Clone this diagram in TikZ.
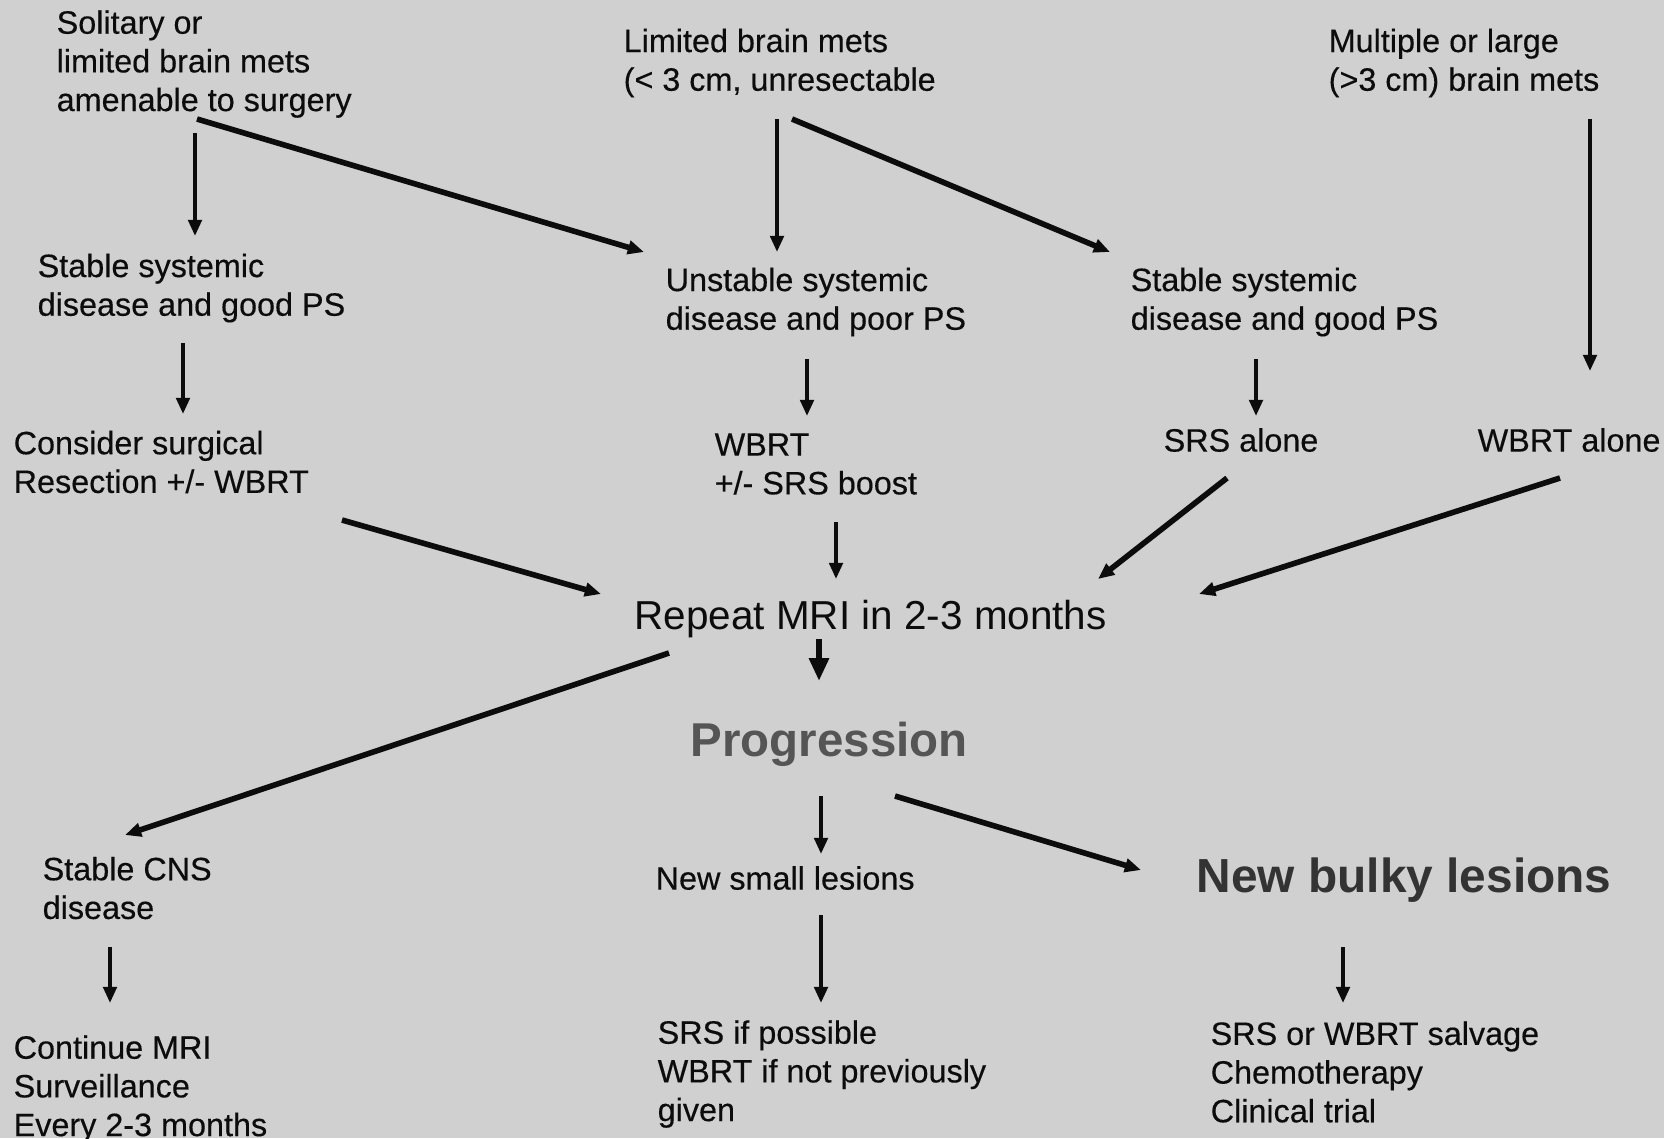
\documentclass[tikz,border=0pt]{standalone}
\usepackage{fontspec}
\setmainfont{Liberation Sans}
\newfontfamily\heavyfont{Liberation Sans}[FakeBold=0.35]
\usetikzlibrary{arrows.meta}
\definecolor{bg}{RGB}{208,208,208}
\definecolor{ink}{RGB}{12,12,12}
\definecolor{progcol}{RGB}{85,85,85}
\definecolor{bulkycol}{RGB}{51,51,51}
\tikzset{
  txt/.style={anchor=west, inner sep=0pt, align=left, text=ink, font=\heavyfont\fontsize{9.2}{11}\selectfont},
  arr/.style={draw=ink, line width=1.1pt, -{Triangle[length=4.6pt,width=3.8pt]}},
  arrthick/.style={arr, line width=1.6pt},
  arrbig/.style={draw=ink, line width=1.7pt, -{Triangle[length=6.5pt,width=5.4pt]}},
}
\begin{document}
\begin{tikzpicture}[x=0.01cm,y=-0.01cm]
    \fill[bg] (0,0) rectangle (1664,1138);
    \useasboundingbox (0,0) rectangle (1664,1138);
    \node[txt] (solitary) at (56,64) {Solitary or\\limited brain mets\\amenable to surgery};
    \node[txt] (limited) at (623,63) {Limited brain mets\\(< 3 cm, unresectable};
    \node[txt] (multiple) at (1328,63) {Multiple or large\\(>3 cm) brain mets};
    \node[txt] (stableL) at (37,288) {Stable systemic\\disease and good PS};
    \node[txt] (unstable) at (665,302) {Unstable systemic\\disease and poor PS};
    \node[txt] (stableR) at (1130,302) {Stable systemic\\disease and good PS};
    \node[txt] (consider) at (13,462) {Consider surgical\\Resection +/- WBRT};
    \node[txt] (wbrt) at (714,464) {WBRT\\+/- SRS boost};
    \node[txt] (srs) at (1163,440) {SRS alone};
    \node[txt] (wbrtalone) at (1477,440) {WBRT alone};
    \node[txt, font=\fontsize{11.5}{13}\selectfont] (repeat) at (634,619) {Repeat MRI in 2-3 months};
    \node[txt, text=progcol, font=\fontsize{13.5}{16}\selectfont\bfseries] (progression) at (690,744) {Progression};
    \node[txt] (stableCNS) at (42,888) {Stable CNS\\disease};
    \node[txt] (newsmall) at (655,878) {New small lesions};
    \node[txt, text=bulkycol, font=\fontsize{13.6}{16}\selectfont\bfseries] (newbulky) at (1196,880) {New bulky lesions};
    \node[txt] (continue) at (13,1089) {Continue MRI\\Surveillance\\Every 2-3 months};
    \node[txt] (srsif) at (657,1074) {SRS if possible\\WBRT if not previously\\given};
    \node[txt] (salvage) at (1210,1072) {SRS or WBRT salvage\\Chemotherapy\\Clinical trial};
    \draw[arr] ([shift={(139,69)}]solitary.west) -- ([shift={(158,-52)}]stableL.west);
    \draw[arrthick] ([shift={(141,55)}]solitary.west) -- ([shift={(-21,-50)}]unstable.west);
    \draw[arr] ([shift={(154,56)}]limited.west) -- ([shift={(112,-50)}]unstable.west);
    \draw[arrthick] ([shift={(169,56)}]limited.west) -- ([shift={(-20,-50)}]stableR.west);
    \draw[arr] ([shift={(262,56)}]multiple.west) -- ([shift={(113,-69)}]wbrtalone.west);
    \draw[arr] ([shift={(146,55)}]stableL.west) -- ([shift={(170,-48)}]consider.west);
    \draw[arr] ([shift={(142,57)}]unstable.west) -- ([shift={(93,-48)}]wbrt.west);
    \draw[arr] ([shift={(126,57)}]stableR.west) -- ([shift={(93,-24)}]srs.west);
    \draw[arrthick] ([shift={(329,58)}]consider.west) -- ([shift={(-33,-25)}]repeat.west);
    \draw[arr] ([shift={(122,58)}]wbrt.west) -- ([shift={(202,-40)}]repeat.west);
    \draw[arrthick] ([shift={(64,38)}]srs.west) -- ([shift={(464,-40)}]repeat.west);
    \draw[arrthick] ([shift={(83,38)}]wbrtalone.west) -- ([shift={(565,-25)}]repeat.west);
    \draw[arrbig] ([shift={(185,20)}]repeat.west) -- ([shift={(129,-63)}]progression.west);
    \draw[arrthick] ([shift={(35,34)}]repeat.west) -- ([shift={(83,-53)}]stableCNS.west);
    \draw[arr] ([shift={(131,52)}]progression.west) -- ([shift={(166,-24)}]newsmall.west);
    \draw[arrthick] ([shift={(205,52)}]progression.west) -- ([shift={(-55,-10)}]newbulky.west);
    \draw[arr] ([shift={(68,59)}]stableCNS.west) -- ([shift={(97,-86)}]continue.west);
    \draw[arr] ([shift={(166,37)}]newsmall.west) -- ([shift={(164,-71)}]srsif.west);
    \draw[arr] ([shift={(147,67)}]newbulky.west) -- ([shift={(133,-69)}]salvage.west);
\end{tikzpicture}
\end{document}
